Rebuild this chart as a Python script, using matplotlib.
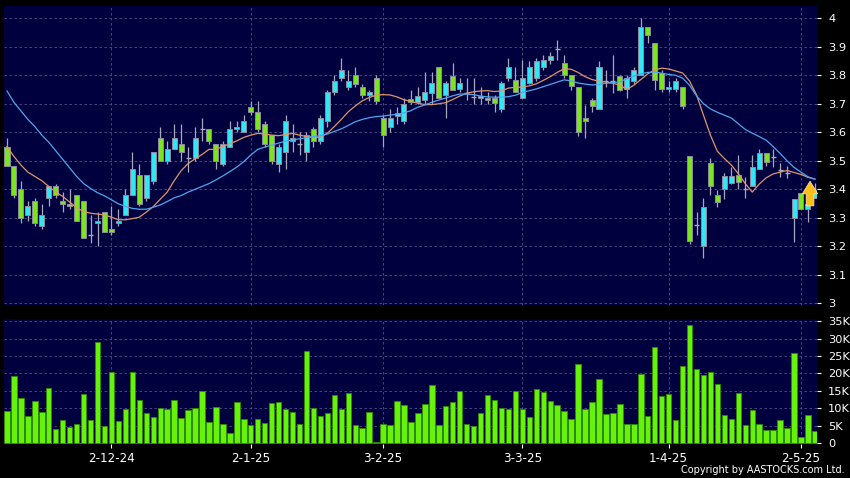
import matplotlib
matplotlib.use("Agg")
import matplotlib.pyplot as plt
import numpy as np

# daily candles, oldest first (price in HKD)
opens = [3.55, 3.48, 3.40, 3.31, 3.36, 3.27, 3.37, 3.41, 3.36, 3.35,
         3.38, 3.36, 3.24, 3.28, 3.32, 3.26, 3.28, 3.31, 3.38, 3.45,
         3.37, 3.43, 3.58, 3.50, 3.54, 3.56, 3.51, 3.51, 3.61, 3.61,
         3.56, 3.49, 3.55, 3.61, 3.60, 3.69, 3.67, 3.63, 3.59, 3.49,
         3.53, 3.57, 3.56, 3.53, 3.61, 3.57, 3.64, 3.74, 3.79, 3.76,
         3.80, 3.76, 3.73, 3.79, 3.65, 3.62, 3.657, 3.64, 3.718, 3.705,
         3.713, 3.739, 3.83, 3.731, 3.797, 3.751, 3.737, 3.725, 3.72, 3.713,
         3.72, 3.681, 3.789, 3.784, 3.72, 3.772, 3.789, 3.83, 3.853, 3.891,
         3.842, 3.80, 3.76, 3.649, 3.713, 3.682, 3.78, 3.78, 3.797, 3.751,
         3.781, 3.801, 3.97, 3.912, 3.809, 3.751, 3.751, 3.758, 3.518, 3.275,
         3.201, 3.491, 3.38, 3.40, 3.423, 3.45, 3.40, 3.412, 3.47, 3.528,
         3.514, 3.468, 3.456, 3.298, 3.388, 3.33, 3.368]
highs = [3.58, 3.48, 3.43, 3.36, 3.37, 3.35, 3.41, 3.42, 3.39, 3.40,
         3.38, 3.36, 3.31, 3.32, 3.32, 3.34, 3.33, 3.40, 3.53, 3.49,
         3.45, 3.53, 3.62, 3.57, 3.63, 3.63, 3.55, 3.62, 3.65, 3.61,
         3.56, 3.57, 3.64, 3.64, 3.66, 3.71, 3.71, 3.64, 3.59, 3.56,
         3.66, 3.63, 3.60, 3.60, 3.62, 3.66, 3.75, 3.80, 3.86, 3.82,
         3.83, 3.77, 3.75, 3.80, 3.66, 3.68, 3.69, 3.72, 3.75, 3.76,
         3.81, 3.81, 3.83, 3.78, 3.842, 3.79, 3.79, 3.79, 3.76, 3.74,
         3.73, 3.78, 3.86, 3.83, 3.853, 3.85, 3.86, 3.87, 3.88, 3.924,
         3.87, 3.80, 3.76, 3.696, 3.72, 3.85, 3.82, 3.871, 3.80, 3.80,
         3.83, 4.00, 3.97, 3.912, 3.82, 3.78, 3.79, 3.76, 3.518, 3.321,
         3.368, 3.509, 3.398, 3.458, 3.479, 3.52, 3.444, 3.52, 3.54, 3.528,
         3.54, 3.491, 3.48, 3.366, 3.388, 3.40, 3.423]
lows = [3.48, 3.37, 3.28, 3.29, 3.27, 3.26, 3.34, 3.37, 3.32, 3.33,
        3.29, 3.23, 3.21, 3.20, 3.25, 3.24, 3.27, 3.31, 3.38, 3.34,
        3.36, 3.42, 3.50, 3.49, 3.54, 3.50, 3.46, 3.50, 3.57, 3.56,
        3.47, 3.48, 3.55, 3.60, 3.60, 3.66, 3.60, 3.55, 3.49, 3.46,
        3.47, 3.53, 3.52, 3.50, 3.55, 3.56, 3.62, 3.73, 3.78, 3.75,
        3.76, 3.72, 3.71, 3.70, 3.55, 3.60, 3.63, 3.63, 3.70, 3.70,
        3.70, 3.70, 3.72, 3.65, 3.75, 3.74, 3.713, 3.70, 3.70, 3.70,
        3.672, 3.67, 3.78, 3.74, 3.72, 3.77, 3.78, 3.82, 3.84, 3.853,
        3.79, 3.75, 3.587, 3.579, 3.67, 3.68, 3.76, 3.737, 3.745, 3.72,
        3.77, 3.80, 3.912, 3.748, 3.74, 3.74, 3.74, 3.68, 3.208, 3.24,
        3.158, 3.38, 3.339, 3.365, 3.42, 3.40, 3.368, 3.41, 3.47, 3.48,
        3.479, 3.444, 3.44, 3.216, 3.33, 3.286, 3.368]
closes = [3.48, 3.38, 3.30, 3.34, 3.28, 3.31, 3.41, 3.38, 3.35, 3.34,
          3.29, 3.23, 3.24, 3.29, 3.25, 3.25, 3.29, 3.38, 3.47, 3.35,
          3.45, 3.53, 3.50, 3.54, 3.58, 3.53, 3.51, 3.58, 3.61, 3.57,
          3.50, 3.56, 3.61, 3.62, 3.64, 3.67, 3.61, 3.56, 3.50, 3.55,
          3.64, 3.58, 3.56, 3.59, 3.57, 3.65, 3.74, 3.78, 3.82, 3.78,
          3.77, 3.73, 3.74, 3.71, 3.59, 3.65, 3.669, 3.70, 3.707, 3.728,
          3.74, 3.772, 3.72, 3.772, 3.75, 3.772, 3.737, 3.725, 3.727, 3.72,
          3.702, 3.772, 3.83, 3.743, 3.789, 3.83, 3.85, 3.855, 3.869, 3.891,
          3.80, 3.762, 3.60, 3.64, 3.692, 3.83, 3.78, 3.78, 3.75, 3.789,
          3.818, 3.97, 3.941, 3.784, 3.751, 3.76, 3.781, 3.692, 3.22, 3.275,
          3.339, 3.412, 3.357, 3.447, 3.447, 3.427, 3.40, 3.479, 3.528, 3.497,
          3.514, 3.468, 3.456, 3.366, 3.33, 3.347, 3.398]
volume_k = [9.2, 19.2, 12.9, 7.8, 12.1, 8.9, 15.7, 4.2, 6.6, 4.6,
            5.6, 14.2, 6.8, 28.9, 5.0, 20.3, 6.3, 9.8, 20.4, 12.3,
            8.6, 7.6, 10.2, 9.7, 12.3, 7.2, 9.5, 10.0, 14.9, 6.2,
            10.4, 5.4, 2.9, 11.9, 6.9, 5.1, 7.0, 5.7, 11.4, 11.8,
            9.8, 9.0, 5.5, 26.5, 10.0, 7.7, 8.8, 13.7, 9.8, 14.5,
            5.1, 4.4, 8.9, 0.4, 5.5, 5.1, 12.0, 11.1, 6.0, 8.8,
            11.3, 16.8, 5.1, 10.6, 11.7, 15.1, 5.6, 5.0, 8.6, 13.8,
            12.3, 10.2, 9.8, 15.0, 9.9, 7.4, 15.6, 14.6, 12.2, 10.9,
            9.2, 7.1, 22.8, 9.8, 11.8, 18.3, 8.3, 8.8, 11.3, 5.4,
            5.5, 19.9, 7.7, 27.6, 13.5, 14.0, 6.6, 22.1, 33.9, 21.4,
            19.7, 20.5, 17.0, 8.1, 6.9, 14.3, 5.1, 9.5, 5.5, 3.7,
            3.8, 6.6, 4.4, 25.9, 1.8, 8.2, 3.5]
# moving averages as drawn on the chart (orange = short, blue = long)
ma_short = [3.55, 3.515, 3.485, 3.46, 3.445, 3.43, 3.41, 3.39, 3.375, 3.355,
            3.335, 3.322, 3.316, 3.313, 3.31, 3.302, 3.293, 3.293, 3.297, 3.302,
            3.32, 3.339, 3.365, 3.39, 3.43, 3.465, 3.49, 3.507, 3.522, 3.54,
            3.54, 3.55, 3.56, 3.57, 3.582, 3.59, 3.596, 3.594, 3.59, 3.588,
            3.592, 3.596, 3.59, 3.585, 3.582, 3.583, 3.597, 3.62, 3.645, 3.672,
            3.692, 3.71, 3.722, 3.73, 3.732, 3.731, 3.724, 3.714, 3.708, 3.702,
            3.697, 3.697, 3.70, 3.704, 3.715, 3.727, 3.737, 3.742, 3.745, 3.746,
            3.743, 3.745, 3.755, 3.758, 3.758, 3.763, 3.77, 3.782, 3.795, 3.81,
            3.823, 3.821, 3.81, 3.795, 3.785, 3.779, 3.776, 3.772, 3.765, 3.75,
            3.765, 3.785, 3.805, 3.818, 3.825, 3.822, 3.815, 3.808, 3.78, 3.731,
            3.66, 3.59, 3.533, 3.508, 3.485, 3.455, 3.42, 3.39, 3.418, 3.44,
            3.454, 3.46, 3.466, 3.459, 3.452, 3.442, 3.436]
ma_long = [3.745, 3.705, 3.675, 3.645, 3.62, 3.59, 3.565, 3.535, 3.505, 3.475,
           3.445, 3.42, 3.403, 3.388, 3.377, 3.363, 3.349, 3.34, 3.333, 3.33,
           3.33, 3.337, 3.345, 3.357, 3.37, 3.378, 3.39, 3.40, 3.41, 3.42,
           3.433, 3.447, 3.462, 3.478, 3.497, 3.52, 3.54, 3.548, 3.555, 3.562,
           3.569, 3.573, 3.577, 3.581, 3.585, 3.588, 3.594, 3.603, 3.612, 3.624,
           3.637, 3.645, 3.651, 3.655, 3.657, 3.66, 3.663, 3.668, 3.676, 3.688,
           3.696, 3.705, 3.713, 3.72, 3.728, 3.734, 3.734, 3.732, 3.727, 3.724,
           3.723, 3.723, 3.725, 3.73, 3.74, 3.746, 3.752, 3.76, 3.768, 3.776,
           3.784, 3.78, 3.773, 3.769, 3.766, 3.768, 3.772, 3.774, 3.777, 3.788,
           3.797, 3.805, 3.81, 3.812, 3.807, 3.803, 3.80, 3.79, 3.765, 3.728,
           3.70, 3.682, 3.67, 3.66, 3.65, 3.63, 3.61, 3.597, 3.585, 3.572,
           3.55, 3.526, 3.50, 3.477, 3.46, 3.444, 3.435]
date_labels = ["2-12-24", "2-1-25", "3-2-25", "3-3-25", "1-4-25", "2-5-25"]
date_bars = [15, 35, 54, 74, 95, 114]
price_ticks = [3.0, 3.1, 3.2, 3.3, 3.4, 3.5, 3.6, 3.7, 3.8, 3.9, 4.0]
vol_ticks = [0, 5, 10, 15, 20, 25, 30, 35]

NAVY = "#00003F"
GRID = "#50508a"
UP = "#33E6F6"
DOWN = "#7AE61E"
WICK = "#a8a8b8"
EDGE = "#8c8c9c"

W, H = 850, 478
fig = plt.figure(figsize=(W / 100, H / 100), dpi=100, facecolor="black")
ax = fig.add_axes([4 / W, 1 - 305 / H, 813 / W, 299 / H])
axv = fig.add_axes([4 / W, 1 - 444 / H, 813 / W, 125 / H])

x = np.arange(len(closes))
o = np.array(opens)
c = np.array(closes)
hi = np.array(highs)
lo = np.array(lows)

for a in (ax, axv):
    a.set_facecolor(NAVY)
    for s in a.spines.values():
        s.set_visible(False)
    a.set_xlim(-0.43, 116.3)
    a.set_xticks(date_bars)
    a.grid(True, color=GRID, linestyle=(0, (3, 3)), linewidth=0.6)
    a.set_axisbelow(True)
    a.yaxis.tick_right()
    a.tick_params(axis="y", colors="white", labelsize=8.2, length=3, pad=5, width=0.8)

# price panel
ax.vlines(x, lo, hi, color=WICK, linewidth=0.9, zorder=2)
up = c > o
down = c < o
flat = c == o
ax.bar(x[up], (c - o)[up], bottom=o[up], width=0.72, color=UP,
       edgecolor=EDGE, linewidth=0.7, zorder=3)
ax.bar(x[down], (o - c)[down], bottom=c[down], width=0.72, color=DOWN,
       edgecolor=EDGE, linewidth=0.7, zorder=3)
ax.hlines(c[flat], x[flat] - 0.36, x[flat] + 0.36, color=WICK, linewidth=1.0, zorder=3)

ax.plot(x, ma_short, color="#E0946A", linewidth=0.9, zorder=4)
ax.plot(x, ma_long, color="#4FA6EE", linewidth=0.9, zorder=4)

# signal arrow on the latest bars
ax.annotate("", xy=(115.3, 3.428), xytext=(115.3, 3.342),
            arrowprops=dict(arrowstyle="simple,head_width=1.1,head_length=0.9,tail_width=0.55",
                            fc="#FFBE1A", ec="#FFE38A", lw=0.6,
                            shrinkA=0, shrinkB=0), zorder=5)

ax.set_ylim(2.994, 4.043)
ax.set_yticks(price_ticks)
ax.set_yticklabels([f"{p:g}" for p in price_ticks])
ax.tick_params(axis="x", length=0, labelbottom=False)

# volume panel
axv.bar(x, volume_k, width=0.78, color="#66F20A", edgecolor="#2E8A00",
        linewidth=0.6, zorder=3)
axv.set_ylim(-0.2, 35.6)
axv.set_yticks(vol_ticks)
axv.set_yticklabels([f"{v}K" if v else "0" for v in vol_ticks])
axv.set_xticklabels(date_labels)
axv.tick_params(axis="x", colors="white", labelsize=8.6, length=3, pad=3, width=0.8)

fig.text(0.994, 0.006, "Copyright by AASTOCKS.com Ltd.", color="white",
         fontsize=7.0, ha="right", va="bottom")

fig.savefig("out.png", dpi=100, facecolor="black")
